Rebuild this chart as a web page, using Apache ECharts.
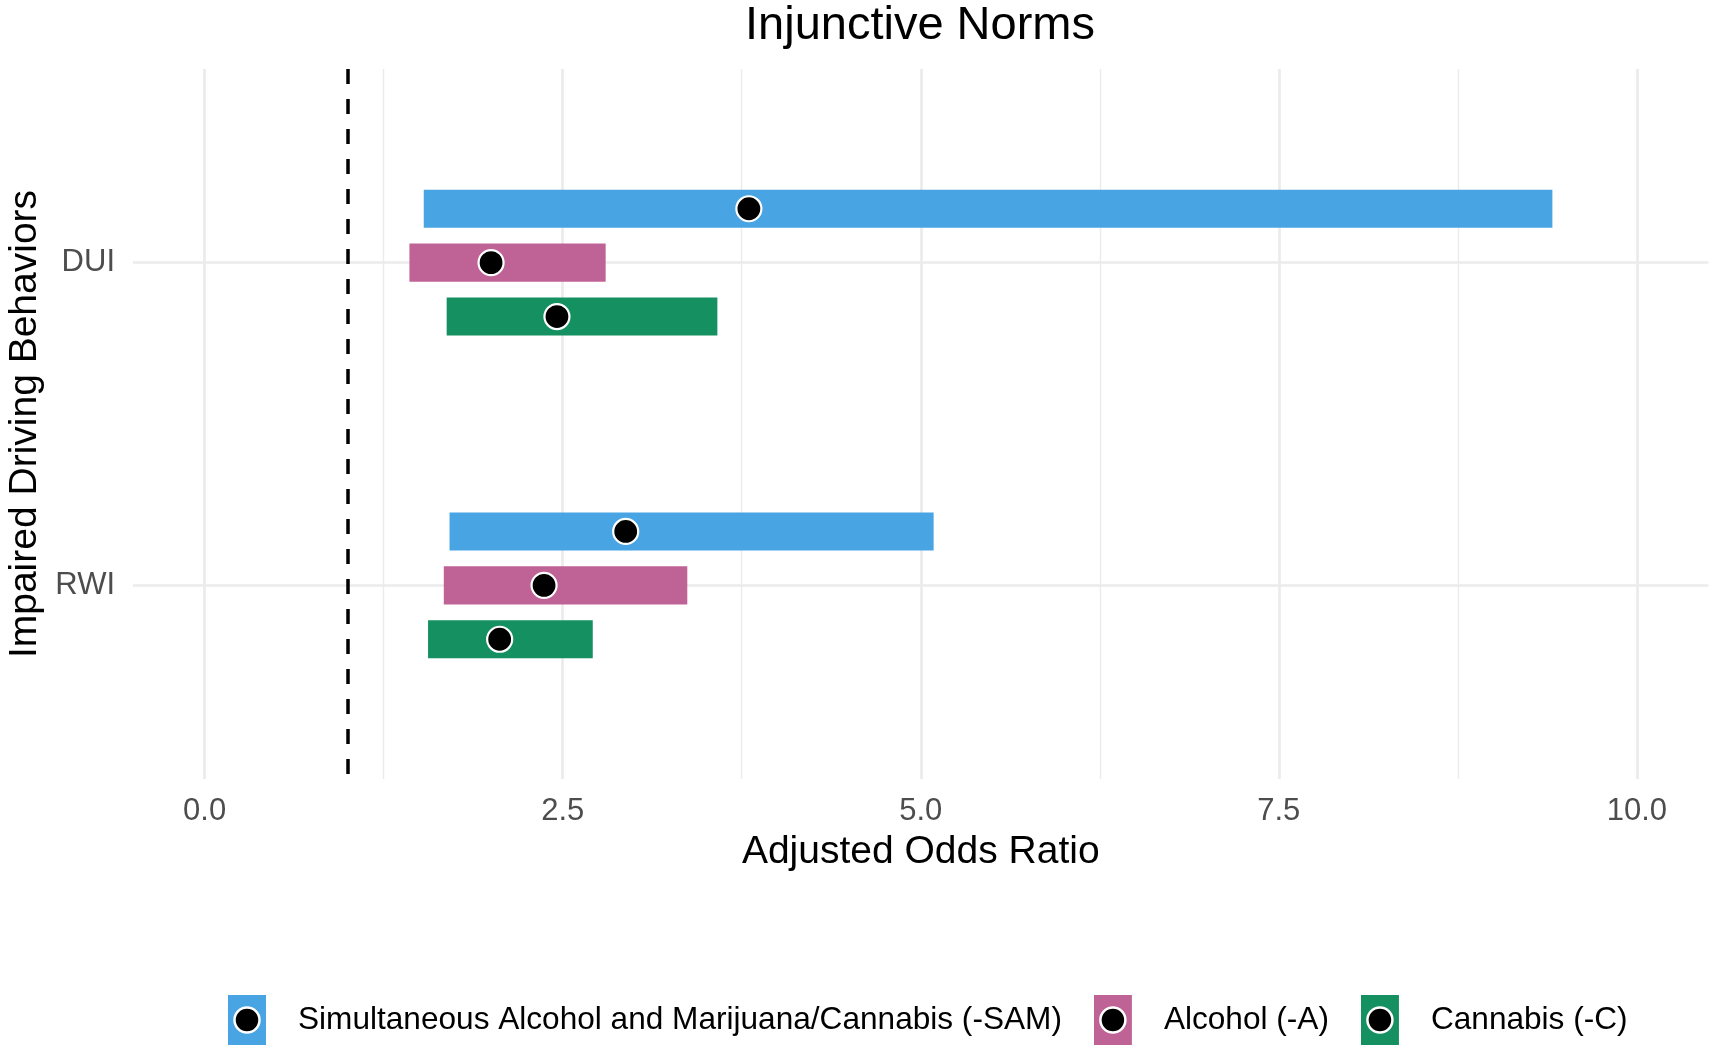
<!DOCTYPE html>
<html>
<head>
<meta charset="utf-8">
<script src="https://cdn.jsdelivr.net/npm/echarts@6/dist/echarts.min.js"></script>
<style>html,body{margin:0;padding:0;background:#fff;}#chart{width:1717px;height:1048px;}</style>
</head>
<body>
<div id="chart"></div>
<script>
// ---- data ----
const categories = ['DUI', 'RWI'];
const seriesNames = ['Simultaneous Alcohol and Marijuana/Cannabis (-SAM)', 'Alcohol (-A)', 'Cannabis (-C)'];
const samLow  = [1.53, 1.71];
const samHigh = [9.41, 5.09];
const samEst  = [3.80, 2.94];
const alcLow  = [1.43, 1.67];
const alcHigh = [2.80, 3.37];
const alcEst  = [2.00, 2.37];
const canLow  = [1.69, 1.56];
const canHigh = [3.58, 2.71];
const canEst  = [2.46, 2.06];
const xTicks = [0, 2.5, 5, 7.5, 10];
const xMinor = [1.25, 3.75, 6.25, 8.75];
const refLine = 1;

// ---- styling ----
const colors = ['#49A4E3', '#BF6295', '#149061'];
const offsets = [-0.167, 0, 0.167];
const barH = 0.118;
const FONT = 'Liberation Sans, Arial, Helvetica, sans-serif';

function rows(lo, hi, est) {
  return categories.map((c, i) => [i + 1, lo[i], hi[i], est[i]]);
}
const groups = [rows(samLow, samHigh, samEst), rows(alcLow, alcHigh, alcEst), rows(canLow, canHigh, canEst)];

function iconFor(color) {
  const svg = "<svg xmlns='http://www.w3.org/2000/svg' width='38' height='50'>" +
    "<rect x='0' y='0' width='38' height='50' fill='" + color + "'/>" +
    "<circle cx='19' cy='25' r='12.5' fill='#000' stroke='#fff' stroke-width='2.5'/></svg>";
  return 'image://data:image/svg+xml;charset=utf-8,' + encodeURIComponent(svg);
}

const series = groups.map((data, k) => ({
  name: seriesNames[k],
  type: 'custom',
  data: data,
  z: 5,
  encode: { x: [1, 2, 3], y: 0 },
  renderItem: function (params, api) {
    const y = api.value(0) + offsets[k];
    const lo = api.coord([api.value(1), y]);
    const hi = api.coord([api.value(2), y]);
    const est = api.coord([api.value(3), y]);
    const h = Math.abs(api.size([0, barH])[1]);
    return {
      type: 'group',
      children: [
        { type: 'rect', shape: { x: lo[0], y: lo[1] - h / 2, width: hi[0] - lo[0], height: h }, style: { fill: colors[k] } },
        { type: 'circle', z2: 10, shape: { cx: est[0], cy: est[1], r: 12.5 }, style: { fill: '#000', stroke: '#fff', lineWidth: 2.2 } }
      ]
    };
  }
}));

// gridlines and reference line
const gridColor = '#EBEBEB';
series.push({
  type: 'scatter', data: [], silent: true, z: 1,
  markLine: {
    silent: true, symbol: 'none', animation: false,
    label: { show: false },
    data: [
      ...xMinor.map(v => ({ xAxis: v, lineStyle: { color: gridColor, width: 1.4, type: 'solid' } })),
      ...xTicks.map(v => ({ xAxis: v, lineStyle: { color: gridColor, width: 2.7, type: 'solid' } })),
      ...categories.map((c, i) => ({ yAxis: i + 1, lineStyle: { color: gridColor, width: 2.7, type: 'solid' } }))
    ]
  }
});
series.push({
  type: 'scatter', data: [], silent: true, z: 8,
  markLine: {
    silent: true, symbol: 'none', animation: false,
    label: { show: false },
    data: [{ xAxis: refLine, lineStyle: { color: '#000', width: 3.5, type: [15, 15] } }]
  }
});

const chart = echarts.init(document.getElementById('chart'), null, { renderer: 'canvas' });
chart.setOption({
  animation: false,
  backgroundColor: '#fff',
  textStyle: { fontFamily: FONT },
  title: {
    text: 'Injunctive Norms',
    left: 920, top: 3, textAlign: 'center', padding: 0,
    textStyle: { fontFamily: FONT, fontSize: 47, fontWeight: 'normal', color: '#000' }
  },
  grid: { left: 133, right: 8.5, top: 69, bottom: 269, containLabel: false, outerBoundsMode: 'none' },
  xAxis: {
    type: 'value', min: -0.5, max: 10.5,
    name: 'Adjusted Odds Ratio', nameLocation: 'middle', nameGap: 54,
    nameTextStyle: { fontFamily: FONT, fontSize: 39, color: '#000' },
    axisLine: { show: false }, axisTick: { show: false }, splitLine: { show: false },
    axisLabel: {
      customValues: xTicks, margin: 17,
      fontFamily: FONT, fontSize: 31, color: '#4D4D4D',
      formatter: v => Number(v).toFixed(1)
    }
  },
  yAxis: {
    type: 'value', min: 0.4, max: 2.6, inverse: true,
    name: 'Impaired Driving Behaviors', nameLocation: 'middle', nameGap: 88, nameRotate: 90,
    nameTextStyle: { fontFamily: FONT, fontSize: 39, color: '#000' },
    axisLine: { show: false }, axisTick: { show: false }, splitLine: { show: false },
    axisLabel: {
      customValues: categories.map((c, i) => i + 1), margin: 18,
      fontFamily: FONT, fontSize: 31, color: '#4D4D4D',
      formatter: v => categories[Math.round(v) - 1] || ''
    }
  },
  legend: {
    left: 228, top: 995, orient: 'horizontal', padding: 0,
    itemWidth: 38, itemHeight: 50, itemGap: 32,
    data: seriesNames.map((n, k) => ({ name: n, icon: iconFor(colors[k]) })),
    textStyle: { fontFamily: FONT, fontSize: 31.6, color: '#000', padding: [0, 0, 0, 27] },
    selectedMode: false
  },
  series: series
});
</script>
</body>
</html>
